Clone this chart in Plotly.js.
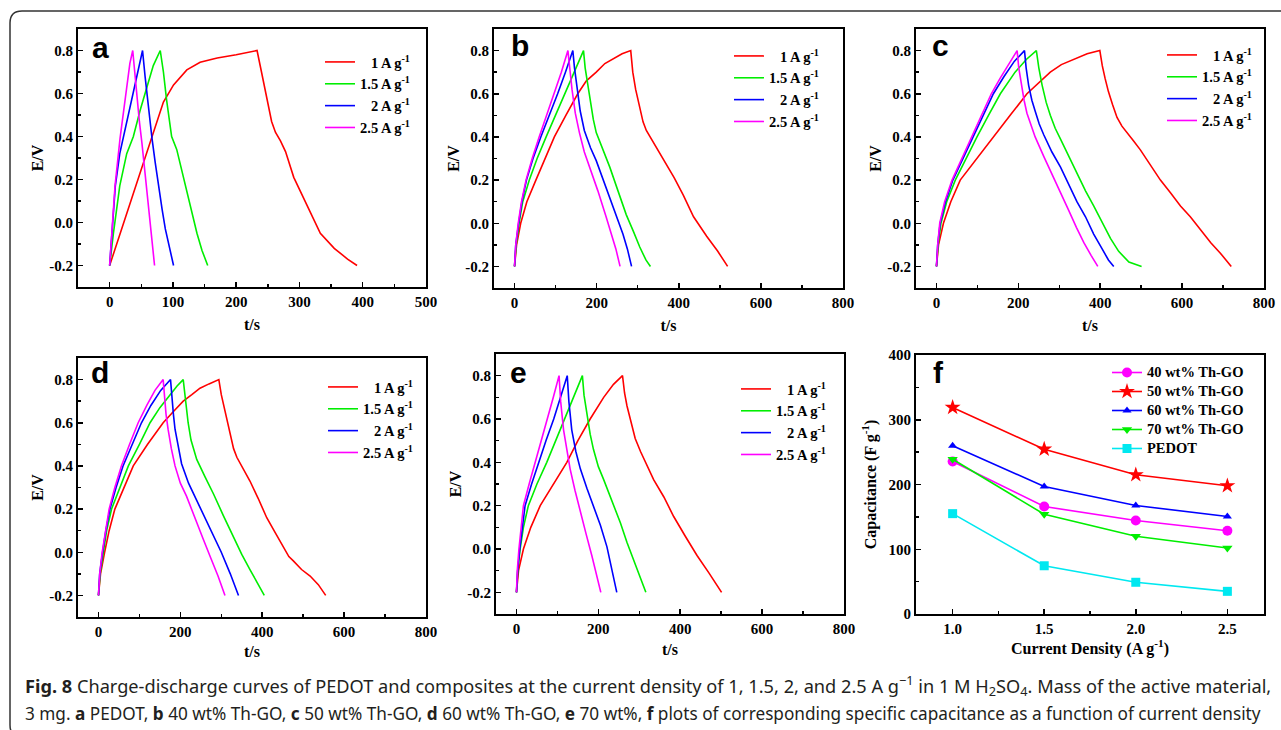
<!DOCTYPE html>
<html>
<head>
<meta charset="utf-8">
<script src="https://cdn.plot.ly/plotly-3.0.1.min.js"></script>
<style>
  html, body { margin: 0; padding: 0; background: #fff; }
  #chart { width: 1281px; height: 730px; }
</style>
</head>
<body>
<div id="chart"></div>
<script>
// ---------------- DATA ----------------
// Legend labels (current densities)
const rateLabels = ['\u00a0\u00a0\u00a01 A g<sup>-1</sup>', '1.5 A g<sup>-1</sup>', '\u00a0\u00a0\u00a02 A g<sup>-1</sup>', '2.5 A g<sup>-1</sup>'];
const rateColors = ['#ff0000', '#00ee00', '#0000ff', '#ff00ff'];
const eTickVals = [-0.2, 0.0, 0.2, 0.4, 0.6, 0.8];
const eTickText = ['-0.2', '0.0', '0.2', '0.4', '0.6', '0.8'];

// Panel a: PEDOT
const a1_t  = [0,20,45,67,85,101,122,143,170,200,233, 240,248,256,262,270,278,291,312,333,355,376,391];
const a1_E  = [-0.2,-0.02,0.2,0.4,0.56,0.64,0.71,0.745,0.765,0.78,0.8, 0.7,0.58,0.47,0.42,0.38,0.33,0.21,0.08,-0.05,-0.12,-0.17,-0.2];
const a15_t = [0,6,16,27,37.5,48,59,69,80, 85,90,95,98,106,114,122,130,138,146,155];
const a15_E = [-0.2,-0.05,0.17,0.32,0.4,0.52,0.63,0.73,0.8, 0.7,0.57,0.47,0.4,0.34,0.24,0.14,0.04,-0.05,-0.13,-0.2];
const a2_t  = [0,4,9,16,26,37,45,52, 56,60,64,67,72,77,83,88,95,101];
const a2_E  = [-0.2,-0.02,0.17,0.32,0.45,0.6,0.7,0.8, 0.68,0.57,0.47,0.39,0.28,0.17,0.06,-0.03,-0.12,-0.2];
const a25_t = [0,4,8.5,16.4,24,32,36.5, 40,43,47,51,55,59,63,67,71];
const a25_E = [-0.2,0,0.17,0.39,0.57,0.74,0.8, 0.68,0.57,0.47,0.37,0.25,0.14,0.03,-0.08,-0.2];

// Panel b: 40 wt% Th-GO
const b1_t  = [0,5,15,30,52,75,97,125,154,175,199,220,240,262,283, 288,295,305,313,321,346,389,411,436,468,495,519];
const b1_E  = [-0.2,-0.1,0,0.1,0.2,0.3,0.4,0.5,0.6,0.66,0.7,0.74,0.76,0.785,0.8, 0.7,0.62,0.54,0.47,0.43,0.35,0.21,0.13,0.03,-0.06,-0.13,-0.2];
const b15_t = [0,4,11,20,36,55,77,100,122,145,168, 172,178,185,192,199,215,232,252,272,290,305,320,331];
const b15_E = [-0.2,-0.1,0,0.1,0.2,0.3,0.4,0.5,0.6,0.7,0.8, 0.72,0.65,0.56,0.48,0.42,0.34,0.26,0.15,0.04,-0.04,-0.11,-0.17,-0.2];
const b2_t  = [0,3,10,18,29,45,64,85,105,124,142, 146,150,154,160,170,185,199,220,240,252,264,275,285];
const b2_E  = [-0.2,-0.1,0,0.1,0.2,0.3,0.4,0.5,0.6,0.7,0.8, 0.72,0.66,0.6,0.52,0.43,0.35,0.29,0.18,0.07,0.01,-0.05,-0.12,-0.2];
const b25_t = [0,3,9,17,28,43,60,78,97,114,130, 134,140,148,158,170,183,203,223,235,247,257];
const b25_E = [-0.2,-0.1,0,0.1,0.2,0.3,0.4,0.5,0.6,0.7,0.8, 0.72,0.62,0.51,0.42,0.33,0.26,0.15,0.03,-0.04,-0.12,-0.2];

// Panel c: 50 wt% Th-GO
const c1_t  = [0,5,17,35,58,98,139,180,221,250,278,305,335,368,399, 405,412,420,430,441,453,466,482,498,522,547,572,596,620,645,670,694,720];
const c1_E  = [-0.2,-0.1,0,0.1,0.2,0.3,0.4,0.5,0.6,0.65,0.7,0.735,0.76,0.785,0.8, 0.73,0.67,0.61,0.55,0.49,0.45,0.42,0.38,0.34,0.27,0.2,0.14,0.08,0.03,-0.03,-0.09,-0.14,-0.2];
const c15_t = [0,4,11,25,46,72,99,127,156,192,220,244, 250,258,268,278,290,303,323,343,364,384,405,425,445,470,501];
const c15_E = [-0.2,-0.1,0,0.1,0.2,0.3,0.4,0.5,0.6,0.7,0.76,0.8, 0.72,0.64,0.56,0.5,0.44,0.39,0.31,0.23,0.15,0.08,0.0,-0.07,-0.13,-0.18,-0.2];
const c2_t  = [0,3,9,22,40,65,91,115,139,165,190,215, 219,225,233,241,251,262,282,303,323,343,364,384,405,420,433];
const c2_E  = [-0.2,-0.1,0,0.1,0.2,0.3,0.4,0.5,0.6,0.68,0.75,0.8, 0.72,0.64,0.57,0.52,0.46,0.41,0.33,0.26,0.18,0.1,0.03,-0.05,-0.12,-0.17,-0.2];
const c25_t = [0,3,8,20,38,62,86,110,134,155,178,197, 201,207,214,221,231,241,262,282,303,323,342,360,378,394];
const c25_E = [-0.2,-0.1,0,0.1,0.2,0.3,0.4,0.5,0.6,0.67,0.74,0.8, 0.72,0.64,0.57,0.51,0.45,0.4,0.31,0.23,0.14,0.06,-0.02,-0.09,-0.15,-0.2];

// Panel d: 60 wt% Th-GO
const d1_t  = [0,5,15,26,40,62,85,120,158,182,207,228,248,270,294, 300,306,313,322,330,338,350,370,390,411,432,452,465,476,496,517,537,555];
const d1_E  = [-0.2,-0.1,0,0.1,0.2,0.3,0.4,0.5,0.6,0.65,0.7,0.73,0.76,0.78,0.8, 0.73,0.68,0.63,0.55,0.48,0.44,0.4,0.33,0.25,0.16,0.09,0.02,-0.02,-0.04,-0.08,-0.11,-0.15,-0.2];
const d15_t = [0,4,12,20,32,52,73,100,126,150,175,192,207, 211,215,219,226,233,240,260,281,305,330,350,370,388,405];
const d15_E = [-0.2,-0.1,0,0.1,0.2,0.3,0.4,0.5,0.6,0.67,0.73,0.77,0.8, 0.73,0.66,0.6,0.52,0.47,0.43,0.35,0.27,0.17,0.07,-0.01,-0.08,-0.14,-0.2];
const d2_t  = [0,3,10,18,28,43,60,82,105,128,152,176, 179,183,187,195,203,220,240,260,281,300,322,342];
const d2_E  = [-0.2,-0.1,0,0.1,0.2,0.3,0.4,0.5,0.6,0.68,0.75,0.8, 0.72,0.64,0.57,0.48,0.41,0.32,0.24,0.16,0.07,0.0,-0.1,-0.2];
const d25_t = [0,3,9,17,26,40,56,76,97,118,138,158, 161,165,170,178,187,200,215,235,256,275,292,309];
const d25_E = [-0.2,-0.1,0,0.1,0.2,0.3,0.4,0.5,0.6,0.68,0.75,0.8, 0.72,0.64,0.57,0.48,0.4,0.32,0.26,0.16,0.06,-0.03,-0.11,-0.2];

// Panel e: 70 wt% Th-GO
const e1_t  = [0,5,17,35,58,90,123,150,180,213,237,259, 264,270,278,290,303,318,335,360,384,412,441,470,501];
const e1_E  = [-0.2,-0.1,0,0.1,0.2,0.3,0.4,0.5,0.6,0.7,0.76,0.8, 0.72,0.66,0.6,0.51,0.45,0.39,0.32,0.24,0.15,0.06,-0.03,-0.11,-0.2];
const e15_t = [0,3,9,17,29,50,74,96,119,141,161, 165,172,180,188,200,213,234,254,270,286,302,316];
const e15_E = [-0.2,-0.1,0,0.1,0.2,0.3,0.4,0.5,0.6,0.7,0.8, 0.71,0.62,0.53,0.46,0.38,0.32,0.22,0.12,0.03,-0.05,-0.13,-0.2];
const e2_t  = [0,3,8,14,21,37,54,72,91,108,124, 128,135,145,156,172,188,205,221,233,245];
const e2_E  = [-0.2,-0.1,0,0.1,0.2,0.3,0.4,0.5,0.6,0.7,0.8, 0.68,0.55,0.45,0.37,0.28,0.2,0.11,0.01,-0.09,-0.2];
const e25_t = [0,2,6,11,17,31,46,61,76,90,104, 108,115,123,131,143,156,170,184,196,206];
const e25_E = [-0.2,-0.1,0,0.1,0.2,0.3,0.4,0.5,0.6,0.7,0.8, 0.68,0.55,0.45,0.37,0.27,0.17,0.07,-0.03,-0.12,-0.2];

// Panel f: specific capacitance vs current density
const currentDensity = [1.0, 1.5, 2.0, 2.5];
const capNames = ['40 wt% Th-GO', '50 wt% Th-GO', '60 wt% Th-GO', '70 wt% Th-GO', 'PEDOT'];
const cap40    = [235.5, 166, 144.5, 128.5];
const cap50    = [319, 254.5, 215, 198];
const cap60    = [260, 197, 167.6, 150.6];
const cap70    = [239, 154, 120, 102];
const capPEDOT = [155, 74.5, 49, 35];
const capColors  = ['#ff00ff', '#ff0000', '#0000ff', '#00ee00', '#00e8f0'];
const capSymbols = ['circle', 'star', 'triangle-up', 'triangle-down', 'square'];
const capSizes   = [10, 12, 8, 9, 9];

// ---------------- LAYOUT HELPERS ----------------
const W = 1281, H = 730;
const PX = v => v / W;
const PY = v => 1 - v / H;
const SERIF = 'Liberation Serif, Times New Roman, serif';
const tickFont = {family: SERIF, size: 15, color: '#000', weight: 'bold'};
const titleFont = {family: SERIF, size: 16, color: '#000', weight: 'bold'};

function axis(extra) {
  return Object.assign({
    showline: true, linecolor: '#000', linewidth: 2, mirror: true,
    ticks: 'inside', ticklen: 5, tickwidth: 1.5, tickcolor: '#000',
    showgrid: false, zeroline: false, tickfont: tickFont, fixedrange: true
  }, extra);
}
function legendAt(x, y, size) {
  return {x: PX(x), y: PY(y), xanchor: 'left', yanchor: 'top',
    bgcolor: 'rgba(0,0,0,0)', borderwidth: 0, tracegroupgap: 0, itemwidth: 30,
    font: {family: SERIF, size: size, color: '#000', weight: 'bold'}};
}

const panels = [
  {id: '',  leg: 'legend',  box: [78, 426, 29, 287],  xr: [-50, 500], dt: 100, mdt: 50,
   curves: [[a1_t, a1_E], [a15_t, a15_E], [a2_t, a2_E], [a25_t, a25_E]], lg: [320, 46], xst: 10},
  {id: '2', leg: 'legend2', box: [494, 843, 29, 288], xr: [-50, 800], dt: 200, mdt: 100,
   curves: [[b1_t, b1_E], [b15_t, b15_E], [b2_t, b2_E], [b25_t, b25_E]], lg: [729, 40], xst: 10},
  {id: '3', leg: 'legend3', box: [916, 1264, 29, 288], xr: [-50, 800], dt: 200, mdt: 100,
   curves: [[c1_t, c1_E], [c15_t, c15_E], [c2_t, c2_E], [c25_t, c25_E]], lg: [1162, 39], xst: 10},
  {id: '4', leg: 'legend4', box: [78, 426, 358, 617], xr: [-50, 800], dt: 200, mdt: 100,
   curves: [[d1_t, d1_E], [d15_t, d15_E], [d2_t, d2_E], [d25_t, d25_E]], lg: [323, 371], xst: 7},
  {id: '5', leg: 'legend5', box: [496, 844, 354, 614], xr: [-50, 800], dt: 200, mdt: 100,
   curves: [[e1_t, e1_E], [e15_t, e15_E], [e2_t, e2_E], [e25_t, e25_E]], lg: [736, 373], xst: 8},
];

const data = [];
const layout = {
  width: W, height: H, margin: {l: 0, r: 0, t: 0, b: 0},
  paper_bgcolor: '#fff', plot_bgcolor: '#fff', showlegend: true,
  font: {family: SERIF, color: '#000'},
  annotations: [], shapes: []
};

panels.forEach(p => {
  p.curves.forEach((c, i) => {
    data.push({
      type: 'scatter', mode: 'lines', x: c[0], y: c[1],
      xaxis: 'x' + p.id, yaxis: 'y' + p.id, legend: p.leg,
      name: rateLabels[i], line: {color: rateColors[i], width: 1.6},
      hoverinfo: 'skip'
    });
  });
  layout['xaxis' + p.id] = axis({
    domain: [PX(p.box[0]), PX(p.box[1])], range: p.xr, anchor: 'y' + p.id,
    tickmode: 'linear', tick0: 0, dtick: p.dt,
    minor: {ticks: 'inside', ticklen: 3, tickwidth: 1.5, tickcolor: '#000', dtick: p.mdt, tick0: 0, showgrid: false},
    title: {text: 't/s', font: titleFont, standoff: p.xst}
  });
  layout['yaxis' + p.id] = axis({
    domain: [PY(p.box[3]), PY(p.box[2])], range: [-0.3, 0.9], anchor: 'x' + p.id,
    tickmode: 'array', tickvals: eTickVals, ticktext: eTickText,
    minor: {ticks: 'inside', ticklen: 3, tickwidth: 1.5, tickcolor: '#000', dtick: 0.1, tick0: 0, showgrid: false},
    title: {text: 'E/V', font: titleFont, standoff: 2}
  });
  layout[p.leg] = legendAt(p.lg[0], p.lg[1], 14.5);
});

// Panel f
[cap40, cap50, cap60, cap70, capPEDOT].forEach((vals, i) => {
  data.push({
    type: 'scatter', mode: 'lines+markers', x: currentDensity, y: vals,
    xaxis: 'x6', yaxis: 'y6', legend: 'legend6',
    name: '<span style="font-size:14.5px">' + capNames[i] + '</span>',
    line: {color: capColors[i], width: 1.6},
    marker: {color: capColors[i], symbol: capSymbols[i], size: capSizes[i]},
    hoverinfo: 'skip'
  });
});
layout.xaxis6 = axis({
  domain: [PX(916), PX(1264)], range: [0.8, 2.7], anchor: 'y6',
  tickmode: 'linear', tick0: 1.0, dtick: 0.5, tickformat: '.1f',
  minor: {ticks: 'inside', ticklen: 3, tickwidth: 1.5, tickcolor: '#000', dtick: 0.25, tick0: 1.0, showgrid: false},
  title: {text: 'Current Density (A g<sup>-1</sup>)', font: titleFont, standoff: 6}
});
layout.yaxis6 = axis({
  domain: [PY(614), PY(355)], range: [0, 400], anchor: 'x6',
  tickmode: 'linear', tick0: 0, dtick: 100,
  minor: {ticks: 'inside', ticklen: 3, tickwidth: 1.5, tickcolor: '#000', dtick: 50, tick0: 0, showgrid: false},
  title: {text: 'Capacitance (F g<sup>-1</sup>)', font: titleFont, standoff: 8}
});
layout.legend6 = legendAt(1107, 358, 12);

// Panel letters
const letters = [['a', 100, 47], ['b', 520, 46], ['c', 940, 46], ['d', 100, 372], ['e', 518, 372], ['f', 938, 372]];
letters.forEach(l => layout.annotations.push({
  text: '<b>' + l[0] + '</b>', xref: 'paper', yref: 'paper', x: PX(l[1]), y: PY(l[2]),
  xanchor: 'center', yanchor: 'middle', showarrow: false,
  font: {family: 'Liberation Sans, Arial, sans-serif', size: 30, color: '#000'}
}));

// Caption
layout.annotations.push({
  text: '<b>Fig. 8</b> Charge-discharge curves of PEDOT and composites at the current density of 1, 1.5, 2, and 2.5 A g<sup>\u22121</sup> in 1 M H<sub>2</sub>SO<sub>4</sub>. Mass of the active material,',
  xref: 'paper', yref: 'paper', x: PX(23), y: PY(685), xanchor: 'left', yanchor: 'middle',
  showarrow: false, align: 'left',
  font: {family: 'Noto Sans, Open Sans, sans-serif', size: 18.2, color: '#231f20'}
});
layout.annotations.push({
  text: '3 mg. <b>a</b> PEDOT, <b>b</b> 40 wt% Th-GO, <b>c</b> 50 wt% Th-GO, <b>d</b> 60 wt% Th-GO, <b>e</b> 70 wt%, <b>f</b> plots of corresponding specific capacitance as a function of current density',
  xref: 'paper', yref: 'paper', x: PX(23), y: PY(713), xanchor: 'left', yanchor: 'middle',
  showarrow: false, align: 'left',
  font: {family: 'Noto Sans, Open Sans, sans-serif', size: 17.2, color: '#231f20'}
});

// Outer rounded border
const bx0 = PX(10), bx1 = PX(1300), by0 = PY(11), by1 = PY(737);
const rx = PX(22) - PX(10), ry = PY(11) - PY(23);
layout.shapes.push({
  type: 'path', xref: 'paper', yref: 'paper', layer: 'below',
  path: `M ${bx1} ${by0} L ${bx0 + rx} ${by0} Q ${bx0} ${by0} ${bx0} ${by0 - ry} L ${bx0} ${by1 + ry} Q ${bx0} ${by1} ${bx0 + rx} ${by1} L ${bx1} ${by1}`,
  line: {color: '#333', width: 1.5}
});

Plotly.newPlot('chart', data, layout, {staticPlot: true, displayModeBar: false});
</script>
</body>
</html>
